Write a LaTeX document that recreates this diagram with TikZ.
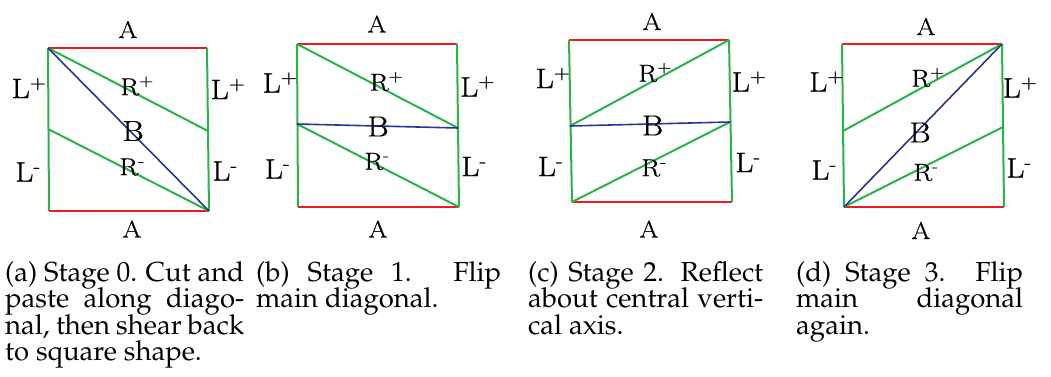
\documentclass[tikz,border=0pt]{standalone}
\usepackage{fontspec}
\setmainfont{Latin Modern Roman}
\newfontfamily\lblfont{Latin Modern Roman}[FakeBold=0.6]
\definecolor{edgered}{RGB}{237,28,36}
\definecolor{edgegreen}{RGB}{43,178,74}
\definecolor{edgeblue}{RGB}{40,54,146}
\newcommand\capfont{\fontencoding{OT1}\fontfamily{ppl}\fontseries{m}\fontshape{n}\fontsize{27.5}{26.5}\selectfont}
\newcommand\wide[1]{\scalebox{1.13}[1]{#1}}
\tikzset{
  redE/.style={draw=edgered, line width=2pt},
  greenE/.style={draw=edgegreen, line width=2pt},
  blueE/.style={draw=edgeblue, line width=1.6pt},
  lblA/.style={inner sep=0pt, font=\lblfont\fontsize{24}{24}\selectfont},
  lblL/.style={inner sep=0pt, font=\lblfont\fontsize{28}{28}\selectfont},
  lblR/.style={inner sep=0pt, font=\lblfont\fontsize{24.5}{24.5}\selectfont},
  lblB/.style={inner sep=0pt, font=\lblfont\fontsize{29}{29}\selectfont},
  capline/.style={anchor=base west, inner sep=0pt, font=\capfont},
}
\newcommand\Lp{\wide{L\textsuperscript{+}}}
\newcommand\Lm{\wide{L\textsuperscript{-}}}
\newcommand\Rp{\wide{R\textsuperscript{+}}}
\newcommand\Rm{\wide{R\textsuperscript{-}}}
\newcommand\Al{\wide{A}}
\newcommand\Bl{\wide{B}}
\begin{document}
\begin{tikzpicture}[x=1pt,y=-1pt]
\useasboundingbox (0,0) rectangle (1051,377);

% ---------- panel (a)
\coordinate (a-tl) at (48,48);  \coordinate (a-tr) at (207,48);
\coordinate (a-bl) at (49,211); \coordinate (a-br) at (209,211);
\coordinate (a-lm) at (48,129); \coordinate (a-rm) at (208,131);
\draw[redE] (a-tl) -- (a-tr);
\draw[redE] (a-bl) -- (a-br);
\draw[greenE] (a-tl) -- (a-bl);
\draw[greenE] (a-tr) -- (a-br);
\draw[greenE] (a-tl) -- (a-rm);
\draw[greenE] (a-lm) -- (a-br);
\draw[blueE] (a-tl) -- (a-br);
\node[lblA] (a-At) at (128,29.5) {\Al};
\node[lblA] (a-Ab) at (132,229) {\Al};
\node[lblL] (a-Lpl) at (29,88) {\Lp};
\node[lblL] (a-Lml) at (28,172) {\Lm};
\node[lblL] (a-Lpr) at (228,89) {\Lp};
\node[lblL] (a-Lmr) at (225,171) {\Lm};
\node[lblR] (a-Rp) at (137,86) {\Rp};
\node[lblR] (a-Rm) at (132,167) {\Rm};
\node[lblB] (a-B) at (133,131) {\Bl};

% ---------- panel (b)
\coordinate (b-tl) at (297,44);  \coordinate (b-tr) at (457,44);
\coordinate (b-bl) at (298,207); \coordinate (b-br) at (459,207);
\coordinate (b-lm) at (297,124); \coordinate (b-rm) at (458,128);
\draw[redE] (b-tl) -- (b-tr);
\draw[redE] (b-bl) -- (b-br);
\draw[greenE] (b-tl) -- (b-bl);
\draw[greenE] (b-tr) -- (b-br);
\draw[greenE] (b-tl) -- (b-rm);
\draw[greenE] (b-lm) -- (b-br);
\draw[blueE] (b-lm) -- (b-rm);
\node[lblA] (b-At) at (377,24) {\Al};
\node[lblA] (b-Ab) at (378,229) {\Al};
\node[lblL] (b-Lpl) at (280,82.5) {\Lp};
\node[lblL] (b-Lml) at (277.5,169) {\Lm};
\node[lblL] (b-Lpr) at (477.5,86.5) {\Lp};
\node[lblL] (b-Lmr) at (474,166.5) {\Lm};
\node[lblR] (b-Rp) at (386.5,81.5) {\Rp};
\node[lblR] (b-Rm) at (377,161.5) {\Rm};
\node[lblB] (b-B) at (378,126.5) {\Bl};

% ---------- panel (c)
\coordinate (c-tl) at (569,40);  \coordinate (c-tr) at (729,40);
\coordinate (c-bl) at (572,202); \coordinate (c-br) at (732,202);
\coordinate (c-lm) at (570,126); \coordinate (c-rm) at (730,122);
\draw[redE] (c-tl) -- (c-tr);
\draw[redE] (c-bl) -- (c-br);
\draw[greenE] (c-tl) -- (c-bl);
\draw[greenE] (c-tr) -- (c-br);
\draw[greenE] (c-lm) -- (c-tr);
\draw[greenE] (c-bl) -- (c-rm);
\draw[blueE] (c-lm) -- (c-rm);
\node[lblA] (c-At) at (652,21.5) {\Al};
\node[lblA] (c-Ab) at (649,229) {\Al};
\node[lblL] (c-Lpl) at (553,78) {\Lp};
\node[lblL] (c-Lml) at (550.5,166.5) {\Lm};
\node[lblL] (c-Lpr) at (749,81.5) {\Lp};
\node[lblL] (c-Lmr) at (748,162.5) {\Lm};
\node[lblR] (c-Rp) at (655,72.5) {\Rp};
\node[lblR] (c-Rm) at (654,168) {\Rm};
\node[lblB] (c-B) at (652.5,125.5) {\Bl};

% ---------- panel (d)
\coordinate (d-tl) at (842,44);  \coordinate (d-tr) at (1002,44);
\coordinate (d-bl) at (844,207); \coordinate (d-br) at (1004,207);
\coordinate (d-lm) at (843,131); \coordinate (d-rm) at (1003,127);
\draw[redE] (d-tl) -- (d-tr);
\draw[redE] (d-bl) -- (d-br);
\draw[greenE] (d-tl) -- (d-bl);
\draw[greenE] (d-tr) -- (d-br);
\draw[greenE] (d-lm) -- (d-tr);
\draw[greenE] (d-bl) -- (d-rm);
\draw[blueE] (d-bl) -- (d-tr);
\node[lblA] (d-At) at (926,26.5) {\Al};
\node[lblA] (d-Ab) at (921,230.5) {\Al};
\node[lblL] (d-Lpl) at (826.5,81.5) {\Lp};
\node[lblL] (d-Lml) at (824,170) {\Lm};
\node[lblL] (d-Lpr) at (1020,87.5) {\Lp};
\node[lblL] (d-Lmr) at (1019,168) {\Lm};
\node[lblR] (d-Rp) at (928,77.5) {\Rp};
\node[lblR] (d-Rm) at (926,172.5) {\Rm};
\node[lblB] (d-B) at (920,132.5) {\Bl};

% ---------- captions
\node[capline] (capa1) at (5,281)   {\makebox[239pt][s]{(a) Stage 0. Cut and}};
\node[capline] (capa2) at (5,307.5) {\makebox[239pt][s]{paste along diago-}};
\node[capline] (capa3) at (5,334)   {\makebox[239pt][s]{nal, then shear back}};
\node[capline] (capa4) at (5,360.5) {to square shape.};

\node[capline] (capb1) at (256,281)   {\makebox[245pt][s]{(b) Stage 1. Flip}};
\node[capline] (capb2) at (256,307.5) {main diagonal.};

\node[capline] (capc1) at (528,281)   {\makebox[235pt][s]{(c) Stage 2. Reflect}};
\node[capline] (capc2) at (528,307.5) {\makebox[235pt][s]{about central verti-}};
\node[capline] (capc3) at (528,334)   {cal axis.};

\node[capline] (capd1) at (796,281)   {\makebox[227pt][s]{(d) Stage 3. Flip}};
\node[capline] (capd2) at (796,307.5) {\makebox[227pt][s]{main diagonal}};
\node[capline] (capd3) at (796,334)   {again.};
\end{tikzpicture}
\end{document}
